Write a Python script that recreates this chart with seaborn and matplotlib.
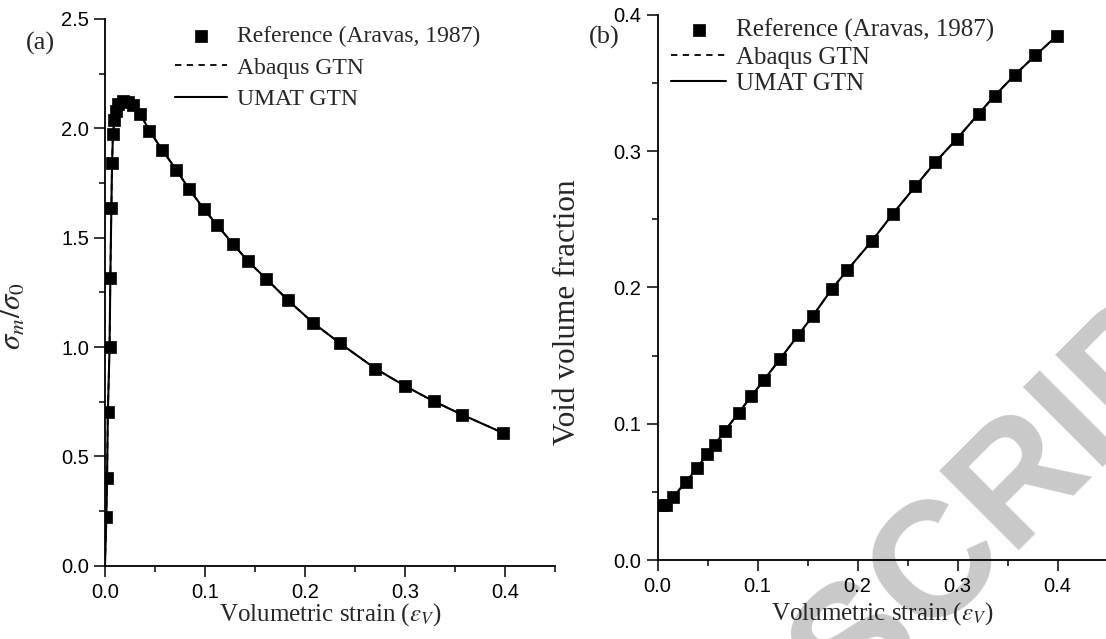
import matplotlib
matplotlib.use("Agg")
import matplotlib.pyplot as plt
import seaborn as sns
import pandas as pd
from matplotlib.ticker import MultipleLocator, FormatStrFormatter

# (a) mean stress vs volumetric strain
strain_a = [0.0014, 0.0021, 0.0029, 0.0046, 0.0054, 0.0064, 0.0071, 0.0080,
            0.0095, 0.0110, 0.0135, 0.0185, 0.0235, 0.0285, 0.0355, 0.0445,
            0.0570, 0.0714, 0.0839, 0.0992, 0.1124, 0.1277, 0.1431, 0.1610,
            0.1830, 0.2080, 0.2348, 0.2705, 0.3000, 0.3286, 0.3570, 0.3980]
stress_a = [0.224, 0.402, 0.703, 1.000, 1.317, 1.637, 1.841, 1.974,
            2.036, 2.077, 2.110, 2.124, 2.121, 2.106, 2.064, 1.989,
            1.903, 1.810, 1.724, 1.629, 1.556, 1.473, 1.392, 1.313,
            1.214, 1.111, 1.018, 0.901, 0.822, 0.752, 0.691, 0.607]
# simulation curves (start from the origin)
curve_strain_a = [0.0] + strain_a
curve_stress_a = [0.0] + stress_a

# (b) void volume fraction vs volumetric strain
strain_b = [0.0046, 0.0088, 0.0159, 0.0282, 0.0395, 0.0494, 0.0572, 0.0671,
            0.0812, 0.0939, 0.1063, 0.1229, 0.1405, 0.1553, 0.1741, 0.1899,
            0.2147, 0.2351, 0.2577, 0.2775, 0.2994, 0.3213, 0.3372, 0.3576,
            0.3778, 0.3993]
void_b = [0.0403, 0.0403, 0.0463, 0.0573, 0.0672, 0.0776, 0.0845, 0.0946,
          0.1080, 0.1203, 0.1319, 0.1478, 0.1648, 0.1791, 0.1985, 0.2128,
          0.2343, 0.2537, 0.2740, 0.2916, 0.3090, 0.3275, 0.3406, 0.3561,
          0.3701, 0.3845]

legend_labels = ["Reference (Aravas, 1987)", "Abaqus GTN", "UMAT GTN"]

sns.set_style("ticks")
plt.rcParams["font.family"] = ["Liberation Sans", "DejaVu Sans"]
plt.rcParams["mathtext.fontset"] = "stix"
serif = ["Liberation Serif", "DejaVu Serif"]

fig = plt.figure(figsize=(11.06, 6.39), dpi=100)
ax1 = fig.add_axes([0.0949, 0.1147, 0.4069, 0.8556])
ax2 = fig.add_axes([0.5945, 0.1236, 0.4069, 0.8534])

# watermark, behind everything
fig.text(0.7685, -0.1205, "SCRIPT", rotation=45, rotation_mode="anchor",
         ha="left", va="baseline", fontsize=118, fontweight="bold",
         color="#c9c9c9", zorder=-5, family=["Liberation Sans"])


def draw(ax, xs, ys, cx, cy):
    sns.scatterplot(x=xs, y=ys, ax=ax, marker="s", s=80, color="black",
                    edgecolor="black", linewidth=0.5, label=legend_labels[0],
                    zorder=3)
    sns.lineplot(x=cx, y=cy, ax=ax, color="black", lw=1.3, sort=False,
                 estimator=None, label=legend_labels[1],
                 linestyle=(0, (3.5, 3)), zorder=2)
    sns.lineplot(x=cx, y=cy, ax=ax, color="black", lw=1.5, sort=False,
                 estimator=None, label=legend_labels[2], zorder=2)


draw(ax1, strain_a, stress_a, curve_strain_a, curve_stress_a)
draw(ax2, strain_b, void_b, strain_b, void_b)

for ax in (ax1, ax2):
    ax.patch.set_alpha(0)
    sns.despine(ax=ax)
    ax.set_xlim(0, 0.45)
    ax.xaxis.set_major_locator(MultipleLocator(0.1))
    ax.xaxis.set_minor_locator(MultipleLocator(0.05))
    ax.xaxis.set_major_formatter(FormatStrFormatter("%.1f"))
    ax.yaxis.set_major_formatter(FormatStrFormatter("%.1f"))
    ax.tick_params(which="major", direction="out", length=8, width=1.1,
                   labelsize=14.5, color="black", labelcolor="black")
    ax.tick_params(axis="y", which="major", pad=3.5)
    ax.tick_params(axis="x", which="major", pad=4.5)
    ax.tick_params(which="minor", direction="out", length=4.5, width=1.1,
                   color="black")
    for s in ("left", "bottom"):
        ax.spines[s].set_linewidth(1.3)
        ax.spines[s].set_color("black")
    ax.set_xlabel(r"Volumetric strain ($\varepsilon_V$)", fontsize=18,
                  family=serif)
    ax.xaxis.label.set_va("center")

ax1.set_ylim(0, 2.5)
ax1.yaxis.set_major_locator(MultipleLocator(0.5))
ax1.yaxis.set_minor_locator(MultipleLocator(0.25))
ax1.set_ylabel(r"$\sigma_m/\sigma_0$", fontsize=22)
ax1.yaxis.set_label_coords(-0.171, 0.457)
ax1.xaxis.set_label_coords(0.5, -0.089)

ax2.set_ylim(0, 0.4)
ax2.yaxis.set_major_locator(MultipleLocator(0.1))
ax2.yaxis.set_minor_locator(MultipleLocator(0.05))
ax2.set_ylabel("Void volume fraction", fontsize=22.5, family=serif)
ax2.yaxis.set_label_coords(-0.168, 0.455)
ax2.xaxis.set_label_coords(0.5, -0.099)

leg_kw = dict(frameon=False, loc="upper left", borderaxespad=0, borderpad=0,
              handlelength=2.2, handletextpad=0.4)
ax1.legend(bbox_to_anchor=(0.156, 0.988), labelspacing=0.42,
           prop={"family": serif, "size": 17}, **leg_kw)
ax2.legend(bbox_to_anchor=(0.030, 0.992), labelspacing=0.15,
           prop={"family": serif, "size": 18}, **leg_kw)

fig.text(40 / 1106, 1 - 43 / 639, "(a)", ha="center", va="center",
         fontsize=19, family=serif)
fig.text(604 / 1106, 1 - 37 / 639, "(b)", ha="center", va="center",
         fontsize=19, family=serif)

fig.savefig("out.png", dpi=100)
